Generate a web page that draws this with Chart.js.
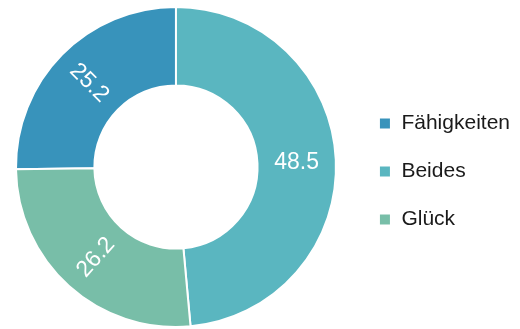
<!DOCTYPE html>
<html>
<head>
<meta charset="utf-8">
<script src="https://cdn.jsdelivr.net/npm/chart.js@4"></script>
<style>
  html, body { margin: 0; padding: 0; background: #fff; }
</style>
</head>
<body>
<canvas id="donut" width="520" height="329"></canvas>
<script>
const labels = ['Fähigkeiten', 'Beides', 'Glück'];
const values = [25.2, 48.5, 26.2];
const colors = ['#3893bb', '#5ab6c0', '#78bea8'];

// white value text in the middle of each ring piece, turned along the radius
const sliceLabels = {
    id: 'sliceLabels',
    afterDatasetsDraw(chart) {
        const ctx = chart.ctx;
        const meta = chart.getDatasetMeta(0);
        ctx.save();
        ctx.font = '23px "Liberation Sans", Arial, sans-serif';
        ctx.fillStyle = '#ffffff';
        ctx.textAlign = 'center';
        ctx.textBaseline = 'middle';
        meta.data.forEach((arc, i) => {
            const p = arc.getCenterPoint();
            let a = (arc.startAngle + arc.endAngle) / 2;
            if (Math.cos(a) < 0) a += Math.PI;
            if (Math.abs(Math.sin(a)) < 0.1) a = 0;
            ctx.save();
            ctx.translate(p.x, p.y);
            ctx.rotate(a);
            ctx.fillText(values[i].toFixed(1), 0, 1);
            ctx.restore();
        });
        ctx.restore();
    }
};

const total = values.reduce((s, v) => s + v, 0);

new Chart('donut', {
    type: 'doughnut',
    data: {
        labels: labels,
        datasets: [{
            data: values,
            backgroundColor: colors,
            borderColor: '#ffffff',
            borderWidth: 2
        }]
    },
    options: {
        responsive: false,
        animation: false,
        devicePixelRatio: 1,
        cutout: '51%',
        rotation: -values[0] / total * 360,
        layout: {
            padding: { left: 0, right: 0, top: 6, bottom: 1 }
        },
        plugins: {
            tooltip: { enabled: false },
            legend: {
                position: 'right',
                title: {
                    display: true,
                    text: '',
                    padding: { top: 8, bottom: 0 },
                    font: { size: 1 }
                },
                labels: {
                    boxWidth: 12,
                    boxHeight: 12,
                    padding: 27,
                    color: '#1a1a1a',
                    font: { family: '"Liberation Sans", Arial, sans-serif', size: 21 }
                }
            }
        }
    },
    plugins: [sliceLabels]
});
</script>
</body>
</html>
